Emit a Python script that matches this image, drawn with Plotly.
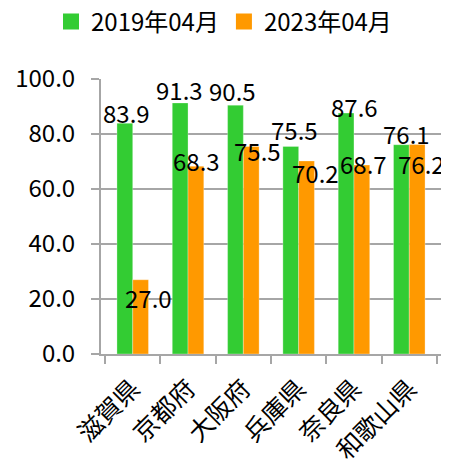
import plotly.graph_objects as go

categories = ["滋賀県", "京都府", "大阪府", "兵庫県", "奈良県", "和歌山県"]
series_names = ["2019年04月", "2023年04月"]
values_2019 = [83.9, 91.3, 90.5, 75.5, 87.6, 76.1]
values_2023 = [27.0, 68.3, 75.5, 70.2, 68.7, 76.2]
y_ticks = [0, 20, 40, 60, 80, 100]

GREEN = "#33CC33"
ORANGE = "#FF9900"
GRID = "#A6A6A6"
FONT = "Noto Sans CJK JP"
FS = 24

# label placement tweaks (pixels): (dx, dy) relative to bar top, dy positive = down
lab_off_2019 = [(2, -11), (0, -13), (-3, -15), (4, -17), (9, -7), (5, -11)]
lab_off_2023 = [(8, 18), (0, -6), (6, 4), (9, 12), (1, -2), (4, 19)]

# the page body has an 8px margin; compensate so the plot lands where the reference has it
OFF = 8
W, H = 449, 463
ML, MR, MT, MB = 101 - OFF, 2 + OFF, 79 - OFF, 109 + OFF
plot_w = W - ML - MR
cat_w = plot_w / len(categories)
bargap = 0.43
bar_w = cat_w * (1 - bargap) / 2

fig = go.Figure()
for vals, name, col in ((values_2019, series_names[0], GREEN), (values_2023, series_names[1], ORANGE)):
    fig.add_trace(go.Bar(x=categories, y=vals, name=name, showlegend=False,
                         marker=dict(color=col, line=dict(color="rgba(255,255,255,0.6)", width=0.5))))
# legend-only entries with larger square swatches
for name, col in ((series_names[0], GREEN), (series_names[1], ORANGE)):
    fig.add_trace(go.Scatter(x=[None], y=[None], mode="markers", name=name,
                             marker=dict(symbol="square", size=16, color=col)))

for i, c in enumerate(categories):
    for vals, offs, sgn in ((values_2019, lab_off_2019, -1), (values_2023, lab_off_2023, 1)):
        dx, dy = offs[i]
        fig.add_annotation(x=c, y=vals[i], text=f"{vals[i]:.1f}", showarrow=False,
                           xanchor="center", yanchor="middle",
                           xshift=sgn * bar_w / 2 + dx, yshift=-dy,
                           font=dict(family=FONT, size=FS, color="black"))

fig.update_layout(
    width=W, height=H,
    margin=dict(l=ML, r=MR, t=MT, b=MB, autoexpand=False),
    paper_bgcolor="white", plot_bgcolor="white",
    barmode="group", bargap=bargap, bargroupgap=0,
    font=dict(family=FONT, size=FS, color="black"),
    showlegend=True,
    legend=dict(orientation="h", x=(224 - OFF) / W, xanchor="center", xref="container",
                y=1 - 14 / H, yref="container", yanchor="middle",
                font=dict(family=FONT, size=FS), itemwidth=30, itemsizing="trace",
                traceorder="normal"),
)
fig.update_yaxes(range=[0, 100], tickvals=y_ticks, ticktext=[f"{v:.1f}" for v in y_ticks],
                 showgrid=True, gridcolor=GRID, gridwidth=2,
                 showline=True, linecolor=GRID, linewidth=2,
                 ticks="outside", ticklen=8, tickcolor=GRID, tickwidth=2,
                 ticklabelstandoff=11,
                 tickfont=dict(family=FONT, size=FS), zeroline=False)
fig.update_xaxes(showline=True, linecolor=GRID, linewidth=2,
                 ticks="outside", ticklen=8, tickcolor=GRID, tickwidth=2,
                 tickson="boundaries", tickangle=-45, ticklabelstandoff=8,
                 tickfont=dict(family=FONT, size=25))

fig.write_html("out.html")
